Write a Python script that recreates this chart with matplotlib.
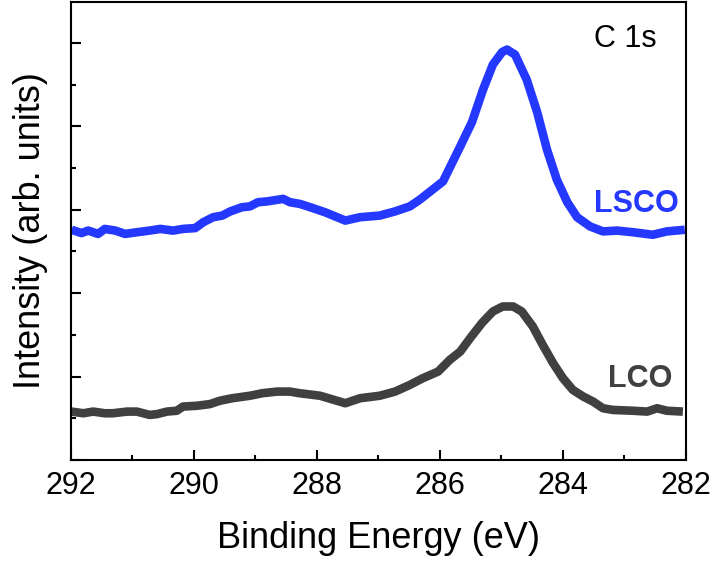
import matplotlib
matplotlib.use("Agg")
import matplotlib.pyplot as plt
from matplotlib.ticker import MultipleLocator, NullFormatter

plt.rcParams['font.family'] = ['Liberation Sans', 'DejaVu Sans']

# C 1s spectra (binding energy in eV, intensity in arb. units)
lsco_energy = [291.99, 291.83, 291.72, 291.56, 291.45, 291.28, 291.12, 290.93, 290.72, 290.55,
               290.34, 290.18, 289.98, 289.85, 289.69, 289.54, 289.41, 289.22, 289.09, 288.96,
               288.81, 288.55, 288.44, 288.28, 288.11, 287.87, 287.54, 287.30, 286.98, 286.73,
               286.49, 286.33, 285.95, 285.67, 285.48, 285.30, 285.14, 284.99, 284.91, 284.78,
               284.59, 284.42, 284.26, 284.10, 283.93, 283.77, 283.56, 283.35, 283.12, 282.86,
               282.54, 282.31, 282.02]
lsco_intensity = [2.76, 2.72, 2.75, 2.71, 2.77, 2.75, 2.71, 2.73, 2.75, 2.77,
                  2.75, 2.77, 2.78, 2.85, 2.91, 2.93, 2.98, 3.03, 3.04, 3.09,
                  3.10, 3.13, 3.09, 3.07, 3.03, 2.97, 2.87, 2.91, 2.93, 2.98,
                  3.04, 3.12, 3.34, 3.76, 4.05, 4.44, 4.74, 4.89, 4.92, 4.86,
                  4.56, 4.17, 3.72, 3.36, 3.09, 2.91, 2.80, 2.74, 2.75, 2.73,
                  2.70, 2.74, 2.76]

lco_energy = [291.99, 291.80, 291.64, 291.45, 291.32, 291.09, 290.93, 290.72, 290.60, 290.44,
              290.28, 290.18, 289.95, 289.74, 289.58, 289.38, 289.09, 288.89, 288.65, 288.44,
              288.28, 287.95, 287.63, 287.54, 287.30, 286.98, 286.73, 286.49, 286.28, 286.03,
              285.84, 285.67, 285.51, 285.32, 285.14, 284.98, 284.81, 284.67, 284.49, 284.33,
              284.16, 284.00, 283.84, 283.67, 283.51, 283.35, 283.19, 282.86, 282.63, 282.47,
              282.31, 282.05]
lco_intensity = [0.58, 0.56, 0.58, 0.56, 0.56, 0.58, 0.58, 0.54, 0.55, 0.58,
                 0.59, 0.64, 0.65, 0.67, 0.71, 0.74, 0.77, 0.80, 0.82, 0.82,
                 0.80, 0.77, 0.70, 0.68, 0.74, 0.77, 0.82, 0.90, 0.98, 1.06,
                 1.20, 1.30, 1.46, 1.64, 1.78, 1.84, 1.84, 1.78, 1.60, 1.38,
                 1.16, 0.98, 0.84, 0.76, 0.70, 0.62, 0.60, 0.59, 0.58, 0.62,
                 0.59, 0.58]

blue = '#2438ff'
grey = '#404040'

fig = plt.figure(figsize=(7.15, 5.63), dpi=100)
ax = fig.add_axes([0.0993, 0.183, 0.8601, 0.8134])

ax.plot(lsco_energy, lsco_intensity, color=blue, lw=6.2, solid_joinstyle='round', solid_capstyle='butt')
ax.plot(lco_energy, lco_intensity, color=grey, lw=6.2, solid_joinstyle='round', solid_capstyle='butt')

ax.set_xlim(292, 282)
ax.set_ylim(0, 5.49)

ax.xaxis.set_major_locator(MultipleLocator(2))
ax.xaxis.set_minor_locator(MultipleLocator(1))
ax.yaxis.set_major_locator(MultipleLocator(1))
ax.yaxis.set_minor_locator(MultipleLocator(0.5))
ax.yaxis.set_major_formatter(NullFormatter())

ax.tick_params(which='both', direction='in', top=False, right=False, width=1.5)
ax.tick_params(which='major', length=7)
ax.tick_params(which='minor', length=3.5)
ax.tick_params(axis='x', labelsize=22, pad=8)
for s in ax.spines.values():
    s.set_linewidth(1.5)

ax.set_xlabel('Binding Energy (eV)', fontsize=26, labelpad=14)
ax.set_ylabel('Intensity (arb. units)', fontsize=26, labelpad=13)

ax.text(282.98, 5.05, 'C 1s', fontsize=22, ha='center', va='center')
ax.text(282.80, 3.07, 'LSCO', fontsize=22, fontweight='bold', color=blue, ha='center', va='center')
ax.text(282.75, 0.97, 'LCO', fontsize=22, fontweight='bold', color=grey, ha='center', va='center')

fig.savefig('out.png', dpi=100)
